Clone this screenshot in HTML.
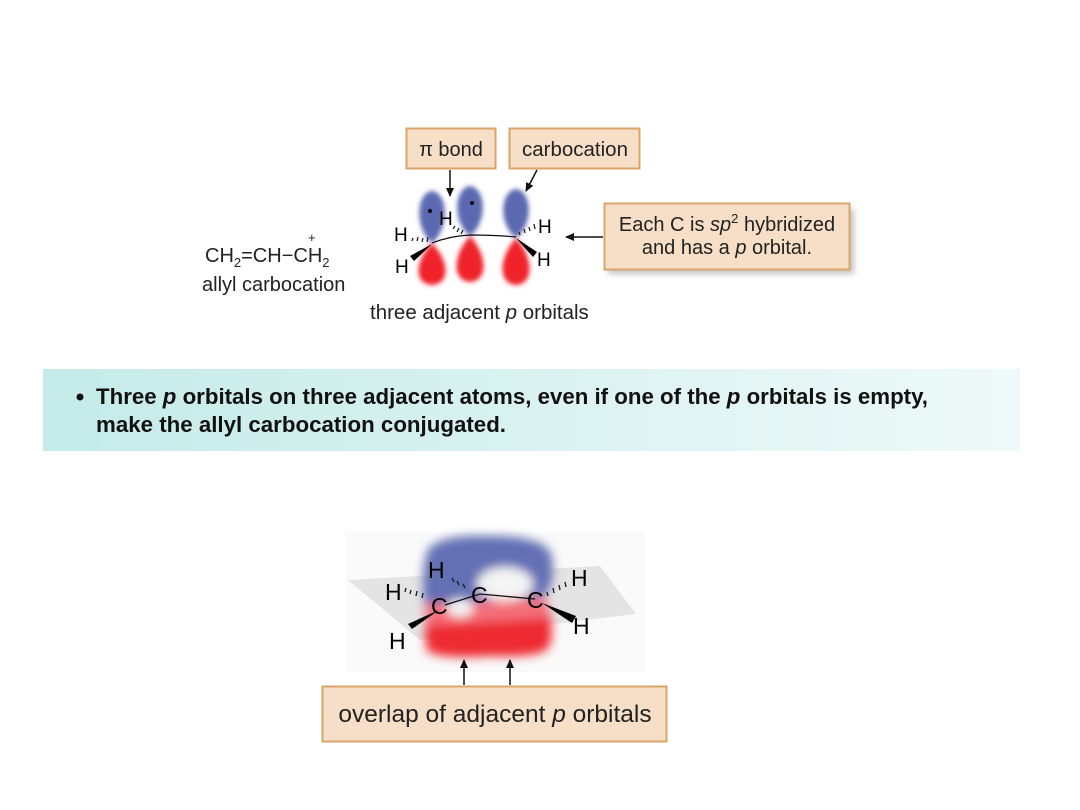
<!DOCTYPE html>
<html><head><meta charset="utf-8"><style>
body{margin:0;background:#fff;}
svg{display:block;font-family:"Liberation Sans",Arial,sans-serif;}
</style></head><body>
<svg width="1080" height="810" viewBox="0 0 1080 810" xmlns="http://www.w3.org/2000/svg">
<defs>
<filter id="b3" x="-50%" y="-50%" width="200%" height="200%"><feGaussianBlur stdDeviation="2.5"/></filter>
<filter id="b4" x="-50%" y="-50%" width="200%" height="200%"><feGaussianBlur stdDeviation="5"/></filter>
<filter id="sh" x="-10%" y="-10%" width="130%" height="140%"><feGaussianBlur stdDeviation="3"/></filter>
<linearGradient id="ban" x1="0" x2="1" y1="0" y2="0"><stop offset="0" stop-color="#c4ebe8"/><stop offset="1" stop-color="#eff9f9"/></linearGradient>
<marker id="ah" markerWidth="10" markerHeight="10" refX="8" refY="4" orient="auto" markerUnits="userSpaceOnUse"><path d="M0,0 L9,4 L0,8 Z" fill="#111"/></marker>
</defs>

<!-- allyl carbocation -->
<text x="205" y="262" font-size="20" fill="#222">CH<tspan font-size="13" dy="5">2</tspan><tspan dy="-5">=CH−CH</tspan><tspan font-size="13" dy="5">2</tspan></text>
<text x="308" y="242" font-size="13" fill="#222">+</text>
<text x="202" y="291" font-size="20" fill="#222">allyl carbocation</text>

<!-- label boxes -->
<rect x="406.5" y="128.5" width="89" height="40" fill="#f6dfc6" stroke="#d9a56b" stroke-width="2"/>
<text x="451" y="156" font-size="20" text-anchor="middle" fill="#222">π bond</text>
<rect x="509.5" y="128.5" width="130" height="40" fill="#f6dfc6" stroke="#d9a56b" stroke-width="2"/>
<text x="575" y="156" font-size="20.5" text-anchor="middle" fill="#222">carbocation</text>

<line x1="450" y1="170" x2="450" y2="196" stroke="#111" stroke-width="1.5" marker-end="url(#ah)"/>
<line x1="537" y1="170" x2="526" y2="191" stroke="#111" stroke-width="1.5" marker-end="url(#ah)"/>

<rect x="608" y="209" width="246" height="65" fill="#888" opacity="0.5" filter="url(#sh)"/>
<rect x="604.5" y="203.5" width="245" height="66" fill="#f6dfc6" stroke="#d9a56b" stroke-width="2"/>
<text x="727" y="231" font-size="20" text-anchor="middle" fill="#222">Each C is <tspan font-style="italic">sp</tspan><tspan font-size="13" dy="-8">2</tspan><tspan dy="8"> hybridized</tspan></text>
<text x="727" y="254" font-size="20" text-anchor="middle" fill="#222">and has a <tspan font-style="italic">p</tspan> orbital.</text>
<line x1="603" y1="237" x2="566" y2="237" stroke="#111" stroke-width="1.5" marker-end="url(#ah)"/>

<!-- top orbitals -->
<g filter="url(#b3)">
<path d="M432,243 C414,228 416,193 432,191 C448,193 450,228 432,243Z" fill="#5c69b0"/>
<path d="M470,236 C452,222 454,188 470,186 C486,188 488,222 470,236Z" fill="#5c69b0"/>
<path d="M516,238 C498,224 500,191 516,189 C532,191 534,224 516,238Z" fill="#5c69b0"/>
<path d="M432,243 C414,262 414,284 432,285 C450,284 450,262 432,243Z" fill="#f0222a"/>
<path d="M470,236 C452,256 452,281 470,282 C488,281 488,256 470,236Z" fill="#f0222a"/>
<path d="M516,238 C498,258 498,284 516,285 C534,284 534,258 516,238Z" fill="#f0222a"/>
</g>
<circle cx="430" cy="211" r="2" fill="#000"/>
<circle cx="472" cy="203" r="2" fill="#000"/>
<path d="M432,243 Q450,236 470,235 Q495,235 516,237" fill="none" stroke="#111" stroke-width="1.2"/>
<path d="M412,241 l1,-3 M417,241 l1,-4 M422,242 l1,-4 M427,242 l1,-5" stroke="#222" stroke-width="1.3"/>
<path d="M455,226 l-2,3 M459,228 l-2,4 M463,230 l-2,4" stroke="#222" stroke-width="1.3"/>
<path d="M520,235 l-1,-3 M525,233 l-1,-4 M530,231 l-1,-4 M535,229 l-1,-5" stroke="#222" stroke-width="1.3"/>
<polygon points="432,244 414,261 410,256" fill="#000"/>
<polygon points="516,238 537,252 533,257" fill="#000"/>
<text x="394" y="241" font-size="19">H</text>
<text x="439" y="225" font-size="19">H</text>
<text x="395" y="273" font-size="19">H</text>
<text x="538" y="233" font-size="19">H</text>
<text x="537" y="266" font-size="19">H</text>
<text x="370" y="319" font-size="20.5" fill="#222">three adjacent <tspan font-style="italic">p</tspan> orbitals</text>

<!-- banner -->
<rect x="43" y="369" width="977" height="82" fill="url(#ban)"/>
<circle cx="80" cy="397" r="3.5" fill="#111"/>
<text x="96" y="404" font-size="22" fill="#111" font-weight="bold" textLength="832" lengthAdjust="spacingAndGlyphs">Three <tspan font-style="italic">p</tspan> orbitals on three adjacent atoms, even if one of the <tspan font-style="italic">p</tspan> orbitals is empty,</text>
<text x="96" y="432" font-size="22" fill="#111" font-weight="bold" textLength="410" lengthAdjust="spacingAndGlyphs">make the allyl carbocation conjugated.</text>

<!-- bottom 3D -->
<rect x="345" y="532" width="300" height="140" fill="#fafafa"/>
<polygon points="348,580 600,566 636,614 420,640" fill="#e4e4e4"/>
<g filter="url(#b4)">
<path d="M428,550 Q440,534 490,536 Q548,536 552,557 Q556,590 540,598 L425,606 Q420,570 428,550Z" fill="#6470b4"/>
<path d="M425,604 L545,598 Q556,620 550,645 Q540,658 490,656 Q430,660 426,640Z" fill="#f4707a"/>
<path d="M425,625 L550,618 Q554,640 548,648 Q540,658 490,656 Q430,660 426,648Z" fill="#ee2a32"/>
<ellipse cx="505" cy="584" rx="28" ry="17" fill="#f4f4f4"/>
<ellipse cx="460" cy="608" rx="13" ry="9" fill="#f4f4f4"/>
</g>
<path d="M445,605 L480,594 L535,599" stroke="#111" stroke-width="1.3" fill="none"/>
<path d="M405,592 l1,-4 M410,594 l1,-4 M416,596 l1,-5 M422,598 l1,-5" stroke="#222" stroke-width="1.4"/>
<path d="M452,578 l2,4 M457,581 l2,4 M463,584 l2,4" stroke="#222" stroke-width="1.4"/>
<path d="M548,596 l-1,-4 M554,593 l-1,-5 M560,590 l-1,-5 M566,587 l-1,-5" stroke="#222" stroke-width="1.4"/>
<polygon points="439,610 412,629 408,624" fill="#000"/>
<polygon points="542,603 576,616 572,623" fill="#000"/>
<text x="431" y="614" font-size="23">C</text>
<text x="471" y="603" font-size="23">C</text>
<text x="527" y="608" font-size="23">C</text>
<text x="428" y="578" font-size="23">H</text>
<text x="385" y="600" font-size="23">H</text>
<text x="389" y="649" font-size="23">H</text>
<text x="571" y="586" font-size="23">H</text>
<text x="573" y="634" font-size="23">H</text>
<line x1="464" y1="685" x2="464" y2="660" stroke="#111" stroke-width="1.5" marker-end="url(#ah)"/>
<line x1="510" y1="685" x2="510" y2="660" stroke="#111" stroke-width="1.5" marker-end="url(#ah)"/>
<rect x="322.5" y="686.5" width="344" height="55" fill="#f6dfc6" stroke="#d9a56b" stroke-width="2"/>
<text x="495" y="722" font-size="24.5" text-anchor="middle" fill="#222">overlap of adjacent <tspan font-style="italic">p</tspan> orbitals</text>
</svg>
</body></html>
